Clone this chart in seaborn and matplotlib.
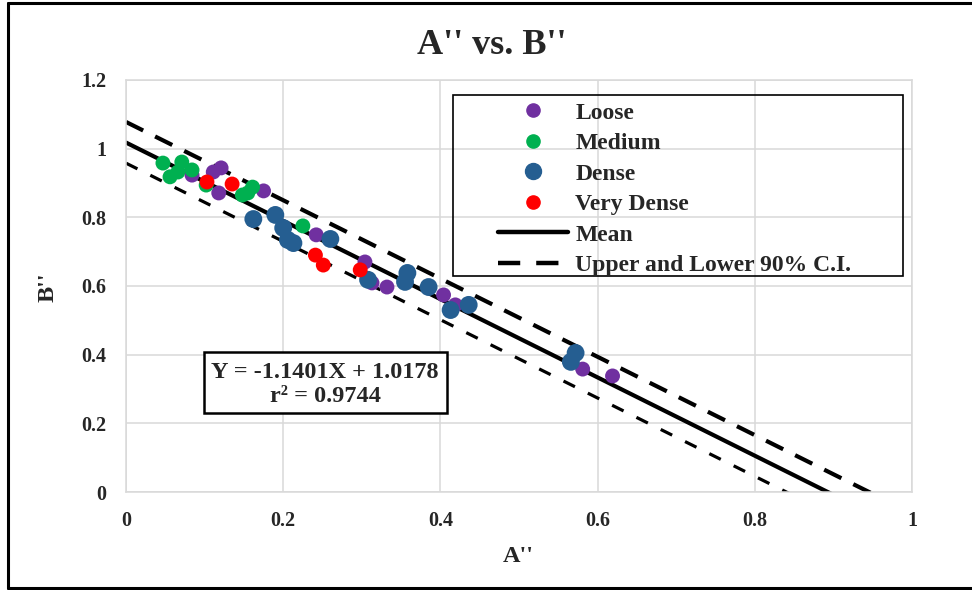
import matplotlib
matplotlib.use("Agg")
import matplotlib.pyplot as plt
import seaborn as sns
import pandas as pd
import numpy as np
from matplotlib.lines import Line2D
from matplotlib.patches import Rectangle

# ---------------- data ----------------
loose_x = [0.111, 0.121, 0.118, 0.084, 0.175, 0.242, 0.304, 0.313, 0.332, 0.404, 0.419, 0.581, 0.619]
loose_y = [0.932, 0.944, 0.871, 0.923, 0.877, 0.749, 0.670, 0.609, 0.597, 0.574, 0.545, 0.358, 0.338]

medium_x = [0.047, 0.056, 0.071, 0.066, 0.084, 0.102, 0.148, 0.161, 0.155, 0.225]
medium_y = [0.958, 0.918, 0.961, 0.932, 0.938, 0.894, 0.865, 0.888, 0.871, 0.775]

dense_x = [0.162, 0.190, 0.200, 0.206, 0.213, 0.260, 0.308, 0.358, 0.355, 0.385, 0.413, 0.436, 0.572, 0.566]
dense_y = [0.795, 0.807, 0.769, 0.734, 0.725, 0.737, 0.618, 0.638, 0.612, 0.597, 0.530, 0.545, 0.405, 0.379]

vdense_x = [0.103, 0.135, 0.241, 0.251, 0.298]
vdense_y = [0.903, 0.897, 0.690, 0.661, 0.647]

categories = ["Loose", "Medium", "Dense", "Very Dense"]
colors = {"Loose": "#7030A0", "Medium": "#00B050", "Dense": "#255E91", "Very Dense": "#FF0000"}

slope = -1.1401
intercept = 1.0178
ci_half = 0.060
line_x = [0.0, 1.0]

x_ticks = [0, 0.2, 0.4, 0.6, 0.8, 1.0]
x_tick_labels = ["0", "0.2", "0.4", "0.6", "0.8", "1"]
y_ticks = [0, 0.2, 0.4, 0.6, 0.8, 1.0, 1.2]
y_tick_labels = ["0", "0.2", "0.4", "0.6", "0.8", "1", "1.2"]

# ---------------- frame ----------------
frames = []
for cat, xs, ys in [("Loose", loose_x, loose_y), ("Medium", medium_x, medium_y),
                    ("Dense", dense_x, dense_y), ("Very Dense", vdense_x, vdense_y)]:
    frames.append(pd.DataFrame({"A": xs, "B": ys, "cat": cat}))
df = pd.concat(frames, ignore_index=True)

lines_df = pd.DataFrame({
    "x": line_x * 3,
    "y": [intercept + slope * v for v in line_x]
         + [intercept + ci_half + slope * v for v in line_x]
         + [intercept - ci_half + slope * v for v in line_x],
    "kind": ["Mean"] * 2 + ["Upper"] * 2 + ["Lower"] * 2,
})

sns.set_style("white")
plt.rcParams["font.family"] = ["Liberation Serif", "DejaVu Serif"]
plt.rcParams["font.weight"] = "bold"

W, H = 972, 590
fig = plt.figure(figsize=(W / 100, H / 100), dpi=100)
ax = fig.add_axes([126 / W, 1 - 492 / H, (912 - 126) / W, (492 - 80) / H])

# lines
sub = lines_df[lines_df.kind == "Mean"]
sns.lineplot(data=sub, x="x", y="y", ax=ax, color="black", lw=3.0, zorder=2, legend=False)
sub = lines_df[lines_df.kind == "Upper"]
sns.lineplot(data=sub, x="x", y="y", ax=ax, color="black", lw=3.0, zorder=2, legend=False,
             dashes=False).lines[-1].set_dashes([4.6, 3.2])
sub = lines_df[lines_df.kind == "Lower"]
sns.lineplot(data=sub, x="x", y="y", ax=ax, color="black", lw=2.3, zorder=2, legend=False,
             dashes=False).lines[-1].set_dashes([4.0, 4.5])

# points
sizes = {"Loose": 115, "Medium": 115, "Dense": 165, "Very Dense": 115}
for cat in categories:
    sub = df[df.cat == cat]
    sns.scatterplot(data=sub, x="A", y="B", ax=ax, color=colors[cat], s=sizes[cat],
                    edgecolor="none", linewidth=0, zorder=3, legend=False)

ax.set_xlim(0, 1)
ax.set_ylim(0, 1.2)
ax.set_xticks(x_ticks)
ax.set_xticklabels(x_tick_labels)
ax.set_yticks(y_ticks)
ax.set_yticklabels(y_tick_labels)
ax.tick_params(axis="both", length=0, labelsize=14.5, pad=14)
for lab in ax.get_xticklabels() + ax.get_yticklabels():
    lab.set_fontweight("bold")
ax.grid(True, color="#D9D9D9", lw=1.1)
ax.set_axisbelow(True)
for sp in ax.spines.values():
    sp.set_color("#D9D9D9")
    sp.set_linewidth(1.1)
ax.set_xlabel("")
ax.set_ylabel("")

fig.text(518 / W, 1 - 556 / H, "A''", ha="center", va="center", fontsize=17.5, fontweight="bold")
fig.text(48 / W, 1 - 287 / H, "B''", ha="center", va="center", fontsize=17.5, fontweight="bold",
         rotation=90)
fig.text(492 / W, 1 - 46 / H, "A'' vs. B''", ha="center", va="center", fontsize=26,
         fontweight="bold")

# legend
handles = [
    Line2D([], [], ls="none", marker="o", color=colors["Loose"], markersize=9.5),
    Line2D([], [], ls="none", marker="o", color=colors["Medium"], markersize=9.5),
    Line2D([], [], ls="none", marker="o", color=colors["Dense"], markersize=11.5),
    Line2D([], [], ls="none", marker="o", color=colors["Very Dense"], markersize=9.5),
    Line2D([], [], color="black", lw=3.2),
    Line2D([], [], color="black", lw=3.2, dashes=[5.0, 3.6]),
]
labels = ["Loose", "Medium", "Dense", "Very Dense", "Mean", "Upper and Lower 90% C.I."]
leg = fig.legend(handles, labels, loc="upper left", bbox_to_anchor=(498 / W, 1 - 102 / H),
                 frameon=False, fontsize=17, handlelength=2.97, handletextpad=0.3,
                 labelspacing=0.38, borderpad=0, borderaxespad=0)
for t in leg.get_texts():
    t.set_fontweight("bold")
fig.patches.append(Rectangle((453 / W, 1 - 276 / H), (903 - 453) / W, (276 - 95) / H,
                             transform=fig.transFigure, fill=False, ec="black", lw=1.2,
                             zorder=5))

# equation box
fig.patches.append(Rectangle((204 / W, 1 - 413 / H), (447 - 204) / W, (413 - 352) / H,
                             transform=fig.transFigure, facecolor="white", ec="black",
                             lw=1.8, zorder=5))
fig.text(325 / W, 1 - 372 / H, "Y = -1.1401X + 1.0178", ha="center", va="center",
         fontsize=17.5, fontweight="bold", zorder=6)
fig.text(325 / W, 1 - 397 / H, "r\u00b2 = 0.9744", ha="center", va="center",
         fontsize=17.5, fontweight="bold", zorder=6)

# outer frame
for (x0, y0, x1, y1) in [(8, 3, 972, 3), (8, 3, 8, 588), (8, 588, 972, 588)]:
    fig.lines.append(Line2D([x0 / W, x1 / W], [1 - y0 / H, 1 - y1 / H],
                            transform=fig.transFigure, color="black", lw=2.2))

fig.savefig("out.png", dpi=100)
